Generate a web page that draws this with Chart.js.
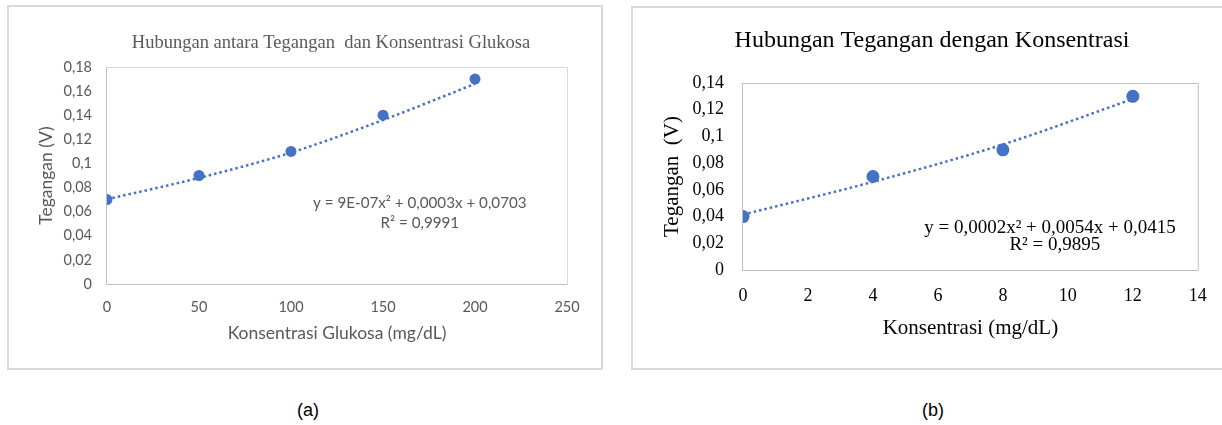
<!DOCTYPE html>
<html>
<head>
<meta charset="utf-8">
<script src="https://cdn.jsdelivr.net/npm/chart.js@4.4.1/dist/chart.umd.min.js"></script>
<style>
  body { margin: 0; width: 1222px; height: 425px; background: #fff; overflow: hidden; position: relative; }
  .frame { position: absolute; border: 2px solid #d9d9d9; box-sizing: border-box; }
  canvas { position: absolute; }
  .cap { position: absolute; width: 60px; text-align: center; font-family: "Liberation Sans", Arial, sans-serif; font-size: 18px; line-height: 20px; color: #000; }
</style>
</head>
<body>
<div class="frame" style="left:7px;top:5px;width:596px;height:365px"></div>
<div class="frame" style="left:631px;top:6px;width:600px;height:364px"></div>
<canvas id="chartA" width="594" height="362" style="left:8px;top:6px"></canvas>
<canvas id="chartB" width="590" height="361" style="left:632px;top:7px"></canvas>
<div class="cap" style="left:278px;top:400px">(a)</div>
<div class="cap" style="left:903px;top:400px">(b)</div>
<script>
// Datos grafico (a)
const glukosa = [0, 50, 100, 150, 200];
const teganganA = [0.07, 0.09, 0.11, 0.14, 0.17];
const trendA = [0.0703, 0.088, 0.109, 0.136, 0.166];
const xMaxA = 250, xStepA = 50, yMaxA = 0.18;
const persamaanA = ['y = 9E-07x² + 0,0003x + 0,0703', 'R² = 0,9991'];

// Datos grafico (b)
const konsentrasi = [0, 4, 8, 12];
const teganganB = [0.04, 0.07, 0.09, 0.13];
const trendB = [0.0415, 0.066, 0.094, 0.128];
const xMaxB = 14, xStepB = 2, yMaxB = 0.14;
const persamaanB = ['y = 0,0002x² + 0,0054x + 0,0415', 'R² = 0,9895'];

const biru = '#4472C4';
const SANS = 'Lato, "Open Sans", sans-serif';
const SERIF = '"Liberation Serif", "Times New Roman", serif';

const koma = v => String(+Number(v).toFixed(2)).replace('.', ',');
const pts = (xs, ys) => xs.map((x, i) => ({ x, y: ys[i] }));

// marco del area de trazado + ajuste del titulo
const plotBox = {
  id: 'plotBox',
  afterLayout(chart, args, opts) {
    if (opts.titleX != null && chart.titleBlock) {
      const t = chart.titleBlock;
      const w = t.right - t.left;
      t.left = opts.titleX - w / 2;
      t.right = opts.titleX + w / 2;
    }
  },
  beforeDatasetsDraw(chart, args, opts) {
    const { ctx, chartArea: a } = chart;
    ctx.save();
    ctx.lineWidth = 1;
    ctx.strokeStyle = opts.light;
    ctx.beginPath();
    ctx.moveTo(a.left, a.top + 0.5); ctx.lineTo(a.right + 0.5, a.top + 0.5); ctx.lineTo(a.right + 0.5, a.bottom);
    ctx.stroke();
    ctx.strokeStyle = opts.dark;
    ctx.beginPath();
    ctx.moveTo(a.left - 0.5, a.top); ctx.lineTo(a.left - 0.5, a.bottom + 0.5); ctx.lineTo(a.right + 0.5, a.bottom + 0.5);
    ctx.stroke();
    ctx.restore();
  },
  afterDraw(chart, args, opts) {
    if (!opts.lines) return;
    const { ctx, scales } = chart;
    ctx.save();
    ctx.fillStyle = opts.color;
    ctx.font = opts.font;
    ctx.textAlign = 'center';
    ctx.textBaseline = 'middle';
    opts.lines.forEach(l => {
      ctx.fillText(l.text, scales.x.getPixelForValue(l.x), scales.y.getPixelForValue(l.y));
    });
    ctx.restore();
  }
};

function buatGrafik(id, cfg) {
  return new Chart(document.getElementById(id), {
    type: 'scatter',
    data: {
      datasets: [
        { data: cfg.titik, backgroundColor: biru, borderWidth: 0, pointRadius: cfg.radius, order: 0 },
        { data: cfg.trend, showLine: true, borderColor: biru, borderWidth: 2.5, borderDash: [2.5, 3],
          pointRadius: 0, cubicInterpolationMode: 'monotone', order: 1 }
      ]
    },
    options: {
      responsive: false,
      animation: false,
      layout: { padding: cfg.pad },
      plugins: {
        legend: { display: false },
        tooltip: { enabled: false },
        title: { display: true, text: cfg.judul, color: cfg.warna, font: cfg.fTitle, padding: cfg.padTitle },
        plotBox: cfg.box
      },
      scales: {
        x: {
          type: 'linear', min: 0, max: cfg.xMax,
          afterFit: s => { s.height = cfg.xH; },
          grid: { display: false, drawTicks: false },
          border: { display: false },
          ticks: { stepSize: cfg.xStep, color: cfg.warna, font: cfg.fTick, padding: cfg.xPad, maxRotation: 0 },
          title: { display: true, text: cfg.xJudul, color: cfg.warna, font: cfg.fAxis, padding: 0 }
        },
        y: {
          min: 0, max: cfg.yMax,
          afterFit: s => { s.width = cfg.yW; },
          grid: { display: false, drawTicks: false },
          border: { display: false },
          ticks: { stepSize: 0.02, color: cfg.warna, font: cfg.fTick, padding: cfg.yPad, callback: koma },
          title: { display: true, text: cfg.yJudul, color: cfg.warna, font: cfg.fAxis, padding: { top: cfg.yTitlePad, bottom: 0 } }
        }
      }
    },
    plugins: [plotBox]
  });
}

buatGrafik('chartA', {
  titik: pts(glukosa, teganganA), trend: pts(glukosa, trendA), radius: 5.5,
  judul: 'Hubungan antara Tegangan  dan Konsentrasi Glukosa', warna: '#595959',
  fTitle: { family: SERIF, size: 18.5, weight: 'normal' }, padTitle: { top: 25.9, bottom: 12.9 },
  fTick: { family: SANS, size: 14.5 }, fAxis: { family: SANS, size: 17.5 },
  pad: { left: 0, right: 35, top: 0, bottom: 24 },
  xMax: xMaxA, xStep: xStepA, yMax: yMaxA, xH: 60, yW: 99, xPad: 14.3, yPad: 15, yTitlePad: 28,
  xJudul: 'Konsentrasi Glukosa (mg/dL)', yJudul: 'Tegangan (V)',
  box: {
    titleX: 323, light: '#d9d9d9', dark: '#bfbfbf', color: '#595959', font: '15.2px ' + SANS,
    lines: [{ text: persamaanA[0], x: 170, y: 0.0672 }, { text: persamaanA[1], x: 170, y: 0.0506 }]
  }
});

buatGrafik('chartB', {
  titik: pts(konsentrasi, teganganB), trend: pts(konsentrasi, trendB), radius: 6.5,
  judul: 'Hubungan Tegangan dengan Konsentrasi', warna: '#000000',
  fTitle: { family: SERIF, size: 24, weight: 'normal' }, padTitle: { top: 19.6, bottom: 27.6 },
  fTick: { family: SERIF, size: 18 }, fAxis: { family: SERIF, size: 21 },
  pad: { left: 0, right: 24, top: 0, bottom: 27 },
  xMax: xMaxB, xStep: xStepB, yMax: yMaxB, xH: 71, yW: 111, xPad: 15.2, yPad: 19, yTitlePad: 27.4,
  xJudul: 'Konsentrasi (mg/dL)', yJudul: 'Tegangan  (V)',
  box: {
    titleX: 300, light: '#bfbfbf', dark: '#bfbfbf', color: '#000000', font: '19px ' + SERIF,
    lines: [{ text: persamaanB[0], x: 9.45, y: 0.0314 }, { text: persamaanB[1], x: 9.6, y: 0.0187 }]
  }
});
</script>
</body>
</html>
